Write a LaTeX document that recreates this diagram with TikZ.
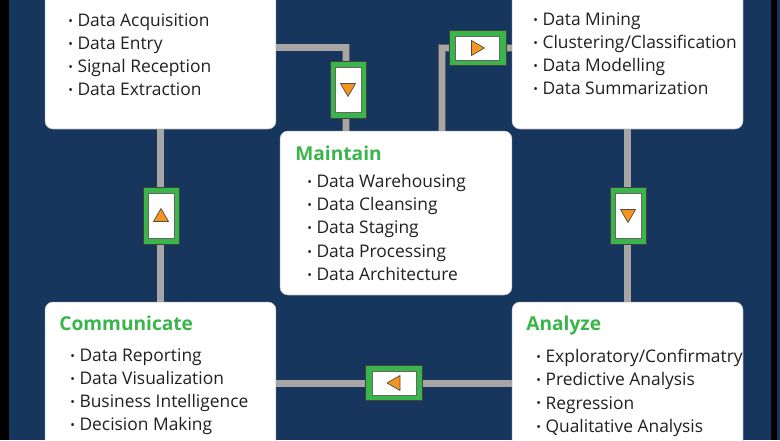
\documentclass[tikz,border=0pt]{standalone}
\usepackage{fontspec}
\setmainfont{Open Sans}

\definecolor{navy}{RGB}{22,54,94}
\definecolor{stagegreen}{RGB}{57,181,74}
\definecolor{pipegray}{RGB}{167,165,166}
\definecolor{pipeedge}{RGB}{95,95,95}
\definecolor{arroworange}{RGB}{247,148,29}
\definecolor{inktext}{RGB}{35,31,32}

\newcommand{\itm}{\raisebox{0.12ex}{\fontsize{7}{7}\selectfont\textbullet}\hspace{2.6pt}}

\tikzset{
  stage/.style={fill=white, draw=black!25, line width=0.3pt, rounded corners=4.5pt, inner sep=0, minimum width=4.62cm},
  items/.style={anchor=north west, align=left, inner sep=0, text=inktext, font=\fontsize{9.9}{13.2}\selectfont},
  heading/.style={anchor=base west, inner sep=0, text=stagegreen, font=\fontsize{10.9}{13}\selectfont\bfseries},
  pipe/.style={draw=pipeedge, double=pipegray, double distance=3.6pt, line width=0.35pt},
  gatev/.style={fill=stagegreen, draw=black!75, line width=0.4pt, inner sep=0, minimum width=0.72cm, minimum height=1.14cm},
  gateh/.style={fill=stagegreen, draw=black!75, line width=0.4pt, inner sep=0, minimum width=1.14cm, minimum height=0.7cm},
  slotv/.style={fill=white, draw=black!60, line width=0.3pt, inner sep=0, minimum width=0.52cm, minimum height=0.9cm},
  sloth/.style={fill=white, draw=black!60, line width=0.3pt, inner sep=0, minimum width=0.88cm, minimum height=0.48cm},
  tri/.style={fill=arroworange, draw=black!70, line width=0.4pt, line join=round}
}

\begin{document}
\begin{tikzpicture}[x=0.02cm, y=-0.02cm]
  \useasboundingbox (0,0) rectangle (780,440);
  \clip (0,0) rectangle (780,440);
  \fill[navy] (0,0) rectangle (780,440);
  \fill[black] (0,0) rectangle (9,440);
  \fill[black] (771,0) rectangle (777,440);

  % stages
  \node[stage, minimum height=3.38cm] (acquire) at (160.5,44.5) {};
  \node[stage, minimum height=3.38cm] (mine) at (627.5,44.5) {};
  \node[stage, minimum width=4.64cm, minimum height=3.28cm] (maintain) at (396,213) {};
  \node[stage, minimum height=3.56cm] (communicate) at (160.5,391) {};
  \node[stage, minimum height=3.56cm] (analyze) at (627.5,391) {};

  % pipes between stages
  \coordinate (bendA) at (346,47.5);
  \coordinate (bendB) at (442,48);
  \coordinate (lowpipe) at (394,383.5);
  \draw[pipe] (acquire.east |- bendA) -- (bendA) -- (bendA |- maintain.north);
  \draw[pipe] (maintain.north -| bendB) -- (bendB) -- (bendB -| mine.west);
  \draw[pipe] (mine.south) -- (analyze.north);
  \draw[pipe] (communicate.north) -- (acquire.south);
  \draw[pipe] (analyze.west |- lowpipe) -- (communicate.east |- lowpipe);

  % gates with direction marks
  \node[gatev] (gateA) at (348,89.5) {};
  \node[slotv] (slotA) at (gateA) {};
  \draw[tri] (slotA) ++(-7.5,-6) -- ++(15,0) -- ++(-7.5,13) -- cycle;

  \node[gateh] (gateB) at (477.5,48) {};
  \node[sloth] (slotB) at (gateB) {};
  \draw[tri] (slotB) ++(-6,-7.5) -- ++(0,15) -- ++(13,-7.5) -- cycle;

  \node[gatev] (gateC) at (628,215.5) {};
  \node[slotv] (slotC) at (gateC) {};
  \draw[tri] (slotC) ++(-7.5,-6) -- ++(15,0) -- ++(-7.5,13) -- cycle;

  \node[gatev] (gateD) at (161,215.5) {};
  \node[slotv] (slotD) at (gateD) {};
  \draw[tri] (slotD) ++(-7.5,6) -- ++(15,0) -- ++(-7.5,-13) -- cycle;

  \node[gateh] (gateE) at (394,383) {};
  \node[sloth] (slotE) at (gateE) {};
  \draw[tri] (slotE) ++(6,-7.5) -- ++(0,15) -- ++(-13,-7.5) -- cycle;

  % texts
  \node[items] (acquire-list) at (68,13) {\itm Data Acquisition\\ \itm Data Entry\\ \itm Signal Reception\\ \itm Data Extraction};
  \node[items] (mine-list) at (533,12) {\itm Data Mining\\ \itm Clustering/Classification\\ \itm Data Modelling\\ \itm Data Summarization};
  \node[heading] (maintain-title) at (295,160) {Maintain};
  \node[items] (maintain-list) at (307,174) {\itm Data Warehousing\\ \itm Data Cleansing\\ \itm Data Staging\\ \itm Data Processing\\ \itm Data Architecture};
  \node[heading] (communicate-title) at (59,330) {Communicate};
  \node[items] (communicate-list) at (70,348) {\itm Data Reporting\\ \itm Data Visualization\\ \itm Business Intelligence\\ \itm Decision Making};
  \node[heading] (analyze-title) at (526,330) {Analyze};
  \node[items] (analyze-list) at (536,349) {\itm Exploratory/Confirmatry\\ \itm Predictive Analysis\\ \itm Regression\\ \itm Qualitative Analysis};
\end{tikzpicture}
\end{document}
